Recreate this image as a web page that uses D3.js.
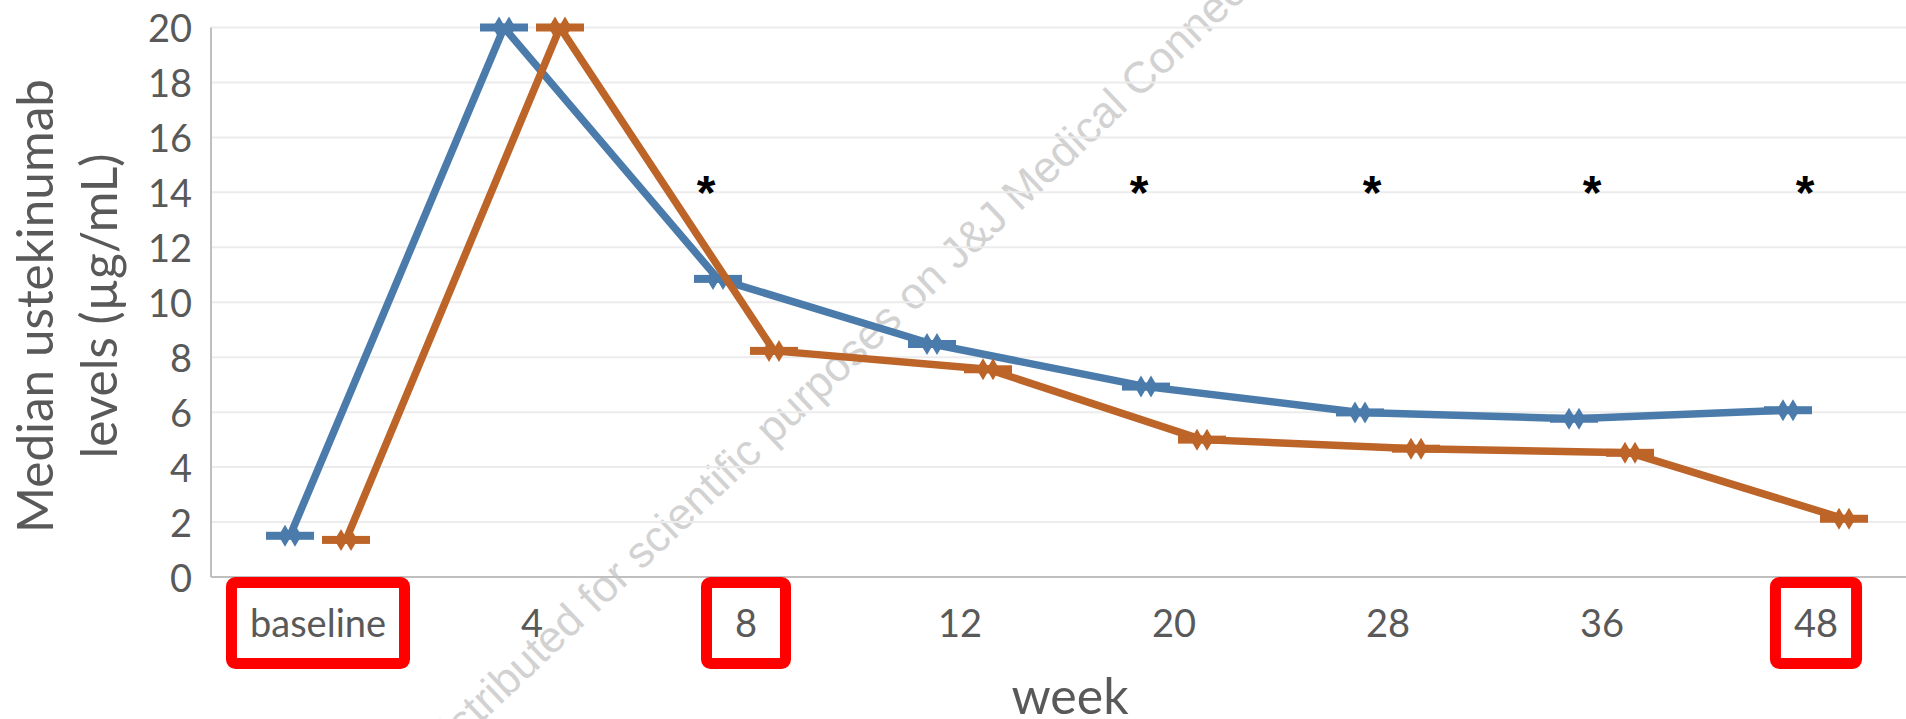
<!DOCTYPE html>
<html>
<head>
<meta charset="utf-8">
<script src="https://cdn.jsdelivr.net/npm/d3@7"></script>
<style>
	body { margin: 0; background: #fff; }
	svg { display: block; }
</style>
</head>
<body>
<div id="chart"></div>
<script>
// data ___________________________________________
const weeks = ["baseline", "4", "8", "12", "20", "28", "36", "48"]
const seriesKeys = ["group1", "group2"]
const group1Levels = [1.5, 20, 10.85, 8.48, 6.93, 5.99, 5.76, 6.07]   // blue
const group2Levels = [1.35, 20, 8.23, 7.56, 5.0, 4.67, 4.52, 2.12]   // orange
const yTicks = [0, 2, 4, 6, 8, 10, 12, 14, 16, 18, 20]
const starWeeks = ["8", "20", "28", "36", "48"]
const boxedWeeks = ["baseline", "8", "48"]
const yTitle = ["Median ustekinumab", "levels (µg/mL)"]
const xTitle = "week"
const watermark = "Distributed for scientific purposes on J&J Medical Connect"

class levelsChart {
	constructor(parentElement) {
		this.parentElement = parentElement
		this.data = seriesKeys.map((k, i) => ({
			key: k,
			values: weeks.map((w, j) => ({week: w, value: [group1Levels, group2Levels][i][j]}))
		}))
		this.initVis()
	}

	initVis() {
		let vis = this

		vis.width = 1906
		vis.height = 719
		vis.left = 211
		vis.bottom = 577
		vis.top = 27.5
		vis.colors = {group1: "#4a7bab", group2: "#bd6428"}
		vis.font = "Lato, 'Open Sans', sans-serif"
		vis.textColor = "#595959"

		vis.svg = d3.select("#" + vis.parentElement).append("svg")
			.attr("width", vis.width)
			.attr("height", vis.height)

		// scales: 8 bands of 214px, the last one runs past the right edge
		vis.x = d3.scaleBand()
			.domain(weeks)
			.range([vis.left, vis.left + 214 * weeks.length])
		vis.xSub = d3.scaleBand()
			.domain(seriesKeys)
			.range([-56, 56])
		vis.y = d3.scaleLinear()
			.domain([0, 20])
			.range([vis.bottom, vis.top])

		vis.cx = w => vis.x(w) + vis.x.bandwidth() / 2
		vis.px = (d, k) => vis.cx(d.week) + vis.xSub(k) + vis.xSub.bandwidth() / 2

		vis.updateVis()
	}

	updateVis() {
		let vis = this

		// watermark under everything
		vis.svg.append("text")
			.attr("transform", "translate(434,768) rotate(-43.5)")
			.attr("font-family", "'Liberation Sans', Arial, sans-serif")
			.attr("font-size", 44)
			.attr("fill", "#d2d2d2")
			.text(watermark)

		// gridlines
		vis.svg.append("g").selectAll("line")
			.data(yTicks.filter(t => t > 0))
			.join("line")
			.attr("x1", vis.left).attr("x2", vis.width)
			.attr("y1", d => vis.y(d)).attr("y2", d => vis.y(d))
			.attr("stroke", "#ececec")
			.attr("stroke-width", 2)

		// axis lines
		vis.svg.append("line")
			.attr("x1", vis.left).attr("x2", vis.width)
			.attr("y1", vis.bottom).attr("y2", vis.bottom)
			.attr("stroke", "#bfbfbf").attr("stroke-width", 2)
		vis.svg.append("line")
			.attr("x1", vis.left).attr("x2", vis.left)
			.attr("y1", vis.top).attr("y2", vis.bottom)
			.attr("stroke", "#bfbfbf").attr("stroke-width", 2)

		// tick labels
		let yAxis = vis.svg.append("g")
			.attr("transform", `translate(${vis.left},2)`)
			.call(d3.axisLeft(vis.y).tickValues(yTicks).tickSize(0).tickPadding(19))
		yAxis.select(".domain").remove()

		let xAxis = vis.svg.append("g")
			.attr("transform", `translate(0,${vis.bottom})`)
			.call(d3.axisBottom(vis.x).tickSize(0).tickPadding(33))
		xAxis.select(".domain").remove()

		vis.svg.selectAll(".tick text")
			.attr("font-family", vis.font)
			.attr("font-size", 38)
			.attr("fill", vis.textColor)

		// red boxes round some week labels
		xAxis.selectAll(".tick")
			.filter(d => boxedWeeks.includes(d))
			.each(function(d) {
				let tw = this.querySelector("text").getBBox().width
				let outer = Math.max(tw + 48, 90)
				d3.select(this).append("rect")
					.attr("x", -outer / 2 + 5.5)
					.attr("y", 5.5)
					.attr("width", outer - 11)
					.attr("height", 81)
					.attr("rx", 4)
					.attr("fill", "none")
					.attr("stroke", "#ff0000")
					.attr("stroke-width", 11)
			})

		// axis titles
		vis.svg.append("g").selectAll("text")
			.data(yTitle)
			.join("text")
			.attr("transform", (d, i) => `translate(${53 + i * 63.5},306) rotate(-90)`)
			.attr("text-anchor", "middle")
			.attr("font-family", vis.font)
			.attr("font-size", 49.5)
			.attr("fill", vis.textColor)
			.text(d => d)

		vis.svg.append("text")
			.attr("x", 1070).attr("y", 714)
			.attr("text-anchor", "middle")
			.attr("font-family", vis.font)
			.attr("font-size", 50)
			.attr("fill", vis.textColor)
			.text(xTitle)

		// series lines
		let line = k => d3.line()
			.x(d => vis.px(d, k))
			.y(d => vis.y(d.value))

		let series = vis.svg.selectAll(".series")
			.data(vis.data)
			.join("g")
			.attr("class", "series")
			.attr("fill", d => vis.colors[d.key])
			.attr("stroke", d => vis.colors[d.key])

		series.append("path")
			.attr("d", d => line(d.key)(d.values))
			.attr("fill", "none")
			.attr("stroke-width", 7.5)
			.attr("stroke-linejoin", "round")

		// markers: a dash with two diamonds
		let diamond = "M0,-11L6.5,0L0,11L-6.5,0Z"
		series.each(function(s) {
			let g = d3.select(this)
			let pts = g.selectAll(".pt")
				.data(s.values)
				.join("g")
				.attr("class", "pt")
				.attr("transform", d => `translate(${vis.px(d, s.key)},${vis.y(d.value)})`)
				.attr("stroke", "none")
			pts.append("rect")
				.attr("x", -24).attr("y", -4)
				.attr("width", 48).attr("height", 8)
			pts.selectAll("path")
				.data([-5, 5])
				.join("path")
				.attr("d", diamond)
				.attr("transform", dx => `translate(${dx},0)`)
		})

		// significance stars, nudged left of their week
		const starShift = [-40, -35, -16, -10, -11]
		vis.svg.append("g").selectAll("text")
			.data(starWeeks)
			.join("text")
			.attr("x", (d, i) => vis.cx(d) + starShift[i])
			.attr("y", 209)
			.attr("text-anchor", "middle")
			.attr("font-family", "'Liberation Sans', Arial, sans-serif")
			.attr("font-weight", "bold")
			.attr("font-size", 48)
			.attr("fill", "#000")
			.text("*")
	}
}

new levelsChart("chart")
</script>
</body>
</html>
